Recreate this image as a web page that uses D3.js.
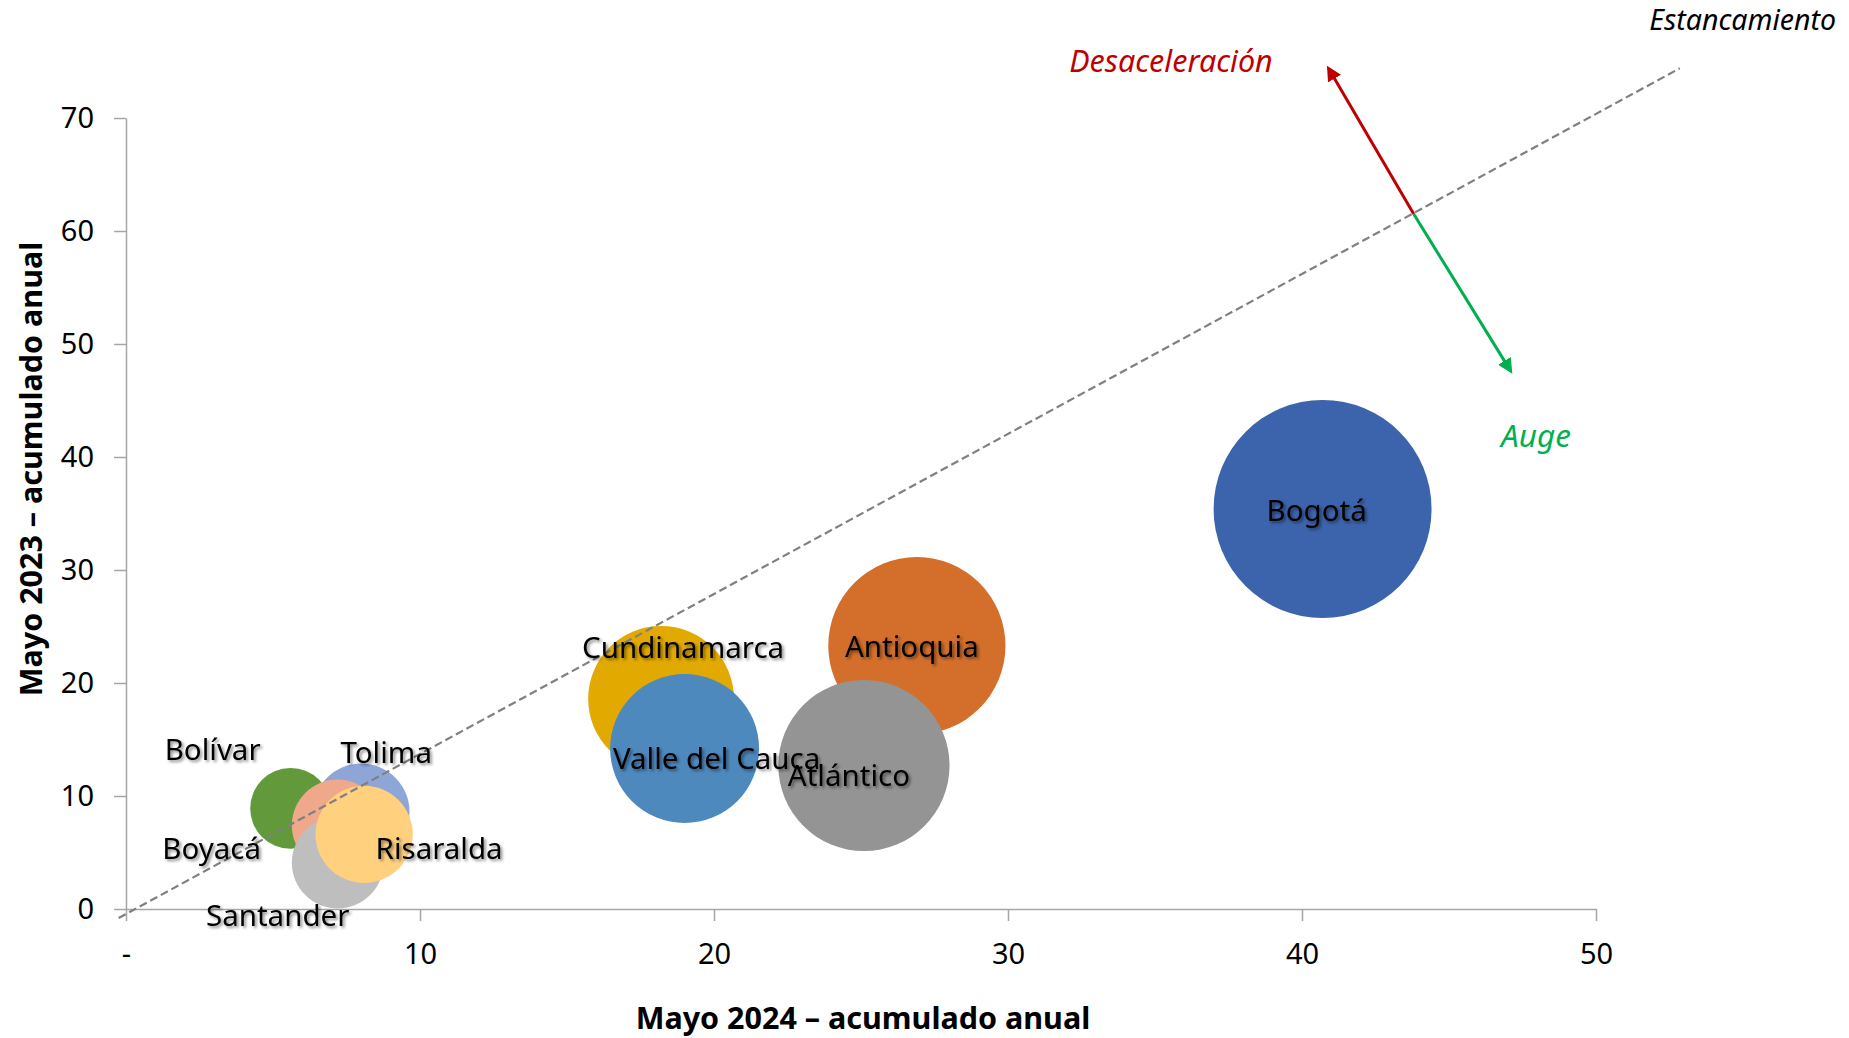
<!DOCTYPE html>
<html>
<head>
<meta charset="utf-8">
<script src="https://cdnjs.cloudflare.com/ajax/libs/d3/7.8.5/d3.min.js"></script>
<style>
  body { margin: 0; background: #fff; }
  text { font-family: "Noto Sans", "Open Sans", sans-serif; }
</style>
</head>
<body>
<div id="chart"></div>
<script>
// data (draw order = z order)
var departamentos = ["Bogotá", "Antioquia", "Atlántico", "Cundinamarca", "Valle del Cauca",
  "Bolívar", "Tolima", "Boyacá", "Santander", "Risaralda"];
var mayo2024 = [40.7, 26.9, 25.1, 18.2, 19.0, 5.6, 8.0, 7.2, 7.2, 8.1];
var mayo2023 = [35.4, 23.3, 12.7, 18.6, 14.2, 8.9, 8.6, 7.4, 4.1, 6.6];
var tamano = [40.7, 26.9, 25.1, 18.2, 19.0, 5.6, 8.0, 7.2, 7.2, 8.1];
var colores = ["#3C64AC", "#D36F2B", "#949494", "#E2AA00", "#4E89BE",
  "#61993B", "#8EA5D7", "#EFA98A", "#BEBEBE", "#FFD17F"];
var xTicks = [0, 10, 20, 30, 40, 50];
var xTickLabels = ["-", "10", "20", "30", "40", "50"];
var yTicks = [0, 10, 20, 30, 40, 50, 60, 70];

// label offsets from bubble centre (px)
var labelOffset = {
  "Bogotá": [-6, 1], "Antioquia": [-5, 0], "Atlántico": [-15, 9],
  "Cundinamarca": [22, -52], "Valle del Cauca": [32, 9], "Bolívar": [-78, -60],
  "Tolima": [25, -60], "Boyacá": [-126, 22], "Santander": [-60, 52], "Risaralda": [75, 13]
};

var svgWidth = 1849;
var svgHeight = 1038;
var margin = { top: 118, right: 253, bottom: 129, left: 126 };
var width = svgWidth - margin.left - margin.right;
var height = svgHeight - margin.top - margin.bottom;

var svg = d3.select("#chart")
  .append("svg")
  .attr("width", svgWidth)
  .attr("height", svgHeight);

var defs = svg.append("defs");
var shadow = defs.append("filter").attr("id", "sombra")
  .attr("x", "-10%").attr("y", "-30%").attr("width", "130%").attr("height", "170%");
shadow.append("feDropShadow")
  .attr("dx", 2).attr("dy", 2).attr("stdDeviation", 1.6)
  .attr("flood-color", "#000").attr("flood-opacity", 0.45);

function addArrow(id, color) {
  defs.append("marker")
    .attr("id", id)
    .attr("viewBox", "0 0 10 10")
    .attr("refX", 8).attr("refY", 5)
    .attr("markerWidth", 5).attr("markerHeight", 5)
    .attr("orient", "auto")
    .append("path")
    .attr("d", "M0,0 L10,5 L0,10 Z")
    .attr("fill", color);
}
addArrow("flechaRoja", "#C00000");
addArrow("flechaVerde", "#00B050");

var chartGroup = svg.append("g")
  .attr("transform", `translate(${margin.left}, ${margin.top})`);

var xScale = d3.scaleLinear().domain([0, 50]).range([0, width]);
var yScale = d3.scaleLinear().domain([0, 70]).range([height, 0]);
var rScale = d3.scaleSqrt().domain([0, 40.7]).range([0, 109]);

// axes
var bottomAxis = d3.axisBottom(xScale)
  .tickValues(xTicks)
  .tickFormat((d, i) => xTickLabels[i])
  .tickSizeInner(12).tickSizeOuter(0).tickPadding(22);
var leftAxis = d3.axisLeft(yScale)
  .tickValues(yTicks)
  .tickSizeInner(12).tickSizeOuter(0).tickPadding(20);

var xAxis = chartGroup.append("g")
  .attr("transform", `translate(0, ${height})`)
  .call(bottomAxis);
var yAxis = chartGroup.append("g")
  .call(leftAxis);

[xAxis, yAxis].forEach(function(ax) {
  ax.select(".domain").attr("stroke", "#A6A6A6").attr("stroke-width", 1.5);
  ax.selectAll(".tick line").attr("stroke", "#A6A6A6").attr("stroke-width", 1.5);
  ax.selectAll(".tick text")
    .attr("fill", "#000")
    .style("font-size", "29px")
    .style("font-family", '"Noto Sans", sans-serif');
});

// bubbles
var puntos = departamentos.map(function(d, i) {
  return { name: d, x: mayo2024[i], y: mayo2023[i], size: tamano[i], color: colores[i] };
});

chartGroup.selectAll("circle.burbuja")
  .data(puntos)
  .enter()
  .append("circle")
  .attr("class", "burbuja")
  .attr("cx", d => xScale(d.x))
  .attr("cy", d => yScale(d.y))
  .attr("r", d => rScale(d.size))
  .attr("fill", d => d.color);

// stagnation line
chartGroup.append("line")
  .attr("x1", xScale(-0.25)).attr("y1", yScale(-0.8))
  .attr("x2", xScale(52.85)).attr("y2", yScale(74.4))
  .attr("stroke", "#808080")
  .attr("stroke-width", 2.2)
  .attr("stroke-dasharray", "8,4");

// arrows
var cruce = [43.8, 61.5];
chartGroup.append("line")
  .attr("x1", xScale(cruce[0])).attr("y1", yScale(cruce[1]))
  .attr("x2", xScale(40.9)).attr("y2", yScale(74.4))
  .attr("stroke", "#C00000").attr("stroke-width", 3)
  .attr("marker-end", "url(#flechaRoja)");
chartGroup.append("line")
  .attr("x1", xScale(cruce[0])).attr("y1", yScale(cruce[1]))
  .attr("x2", xScale(47.1)).attr("y2", yScale(47.6))
  .attr("stroke", "#00B050").attr("stroke-width", 3)
  .attr("marker-end", "url(#flechaVerde)");

// bubble labels
chartGroup.selectAll("text.etiqueta")
  .data(puntos)
  .enter()
  .append("text")
  .attr("class", "etiqueta")
  .attr("x", d => xScale(d.x) + labelOffset[d.name][0])
  .attr("y", d => yScale(d.y) + labelOffset[d.name][1])
  .attr("text-anchor", "middle")
  .attr("dominant-baseline", "central")
  .attr("filter", "url(#sombra)")
  .style("font-size", "29.5px")
  .attr("fill", "#000")
  .text(d => d.name);

// annotations
svg.append("text")
  .attr("x", 1836).attr("y", 19)
  .attr("text-anchor", "end").attr("dominant-baseline", "central")
  .style("font-size", "28.5px").style("font-style", "italic")
  .attr("fill", "#000")
  .text("Estancamiento");
svg.append("text")
  .attr("x", 1171).attr("y", 60)
  .attr("text-anchor", "middle").attr("dominant-baseline", "central")
  .style("font-size", "30.5px").style("font-style", "italic")
  .attr("fill", "#C00000")
  .text("Desaceleración");
svg.append("text")
  .attr("x", 1536).attr("y", 434)
  .attr("text-anchor", "middle").attr("dominant-baseline", "central")
  .style("font-size", "31.5px").style("font-style", "italic")
  .attr("fill", "#00B050")
  .text("Auge");

// axis titles
svg.append("text")
  .attr("x", 863).attr("y", 1017)
  .attr("text-anchor", "middle").attr("dominant-baseline", "central")
  .style("font-size", "30.5px").style("font-weight", "bold")
  .text("Mayo 2024 – acumulado anual");
svg.append("text")
  .attr("transform", "translate(30, 469) rotate(-90)")
  .attr("text-anchor", "middle").attr("dominant-baseline", "central")
  .style("font-size", "30.5px").style("font-weight", "bold")
  .text("Mayo 2023 – acumulado anual");
</script>
</body>
</html>
